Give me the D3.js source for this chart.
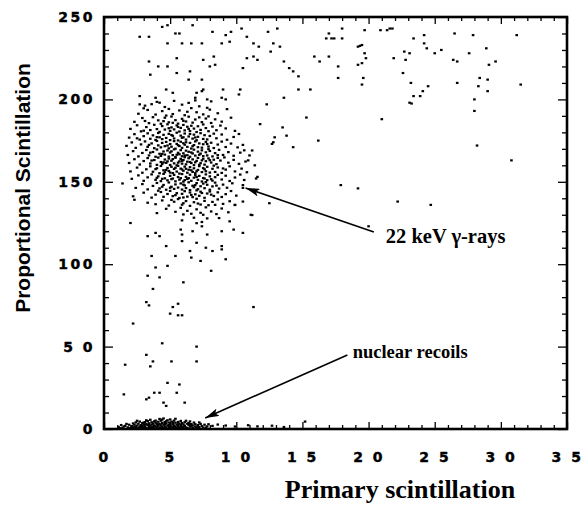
<!DOCTYPE html>
<html><head><meta charset="utf-8">
<script src="https://cdn.jsdelivr.net/npm/d3@7"></script>
<style>
html,body{margin:0;padding:0;background:#fff;}
svg{display:block;}
.tick text{font-family:"DejaVu Sans",sans-serif;font-weight:bold;font-size:14px;fill:#000;letter-spacing:2.5px;stroke:#000;stroke-width:0.4px;}
</style></head>
<body><svg id="chart" width="583" height="507"></svg>
<script>
// ---- data ----
const xTickValues = [0,5,10,15,20,25,30,35];
const xTickLabels = ["0","5","1 0","1 5","2 0","2 5","3 0","3 5"];
const yTickValues = [0,50,100,150,200,250];
const yTickLabels = ["0","5 0","100","150","200","250"];
const xTitle = "Primary scintillation";
const yTitle = "Proportional Scintillation";

// 22 keV gamma-ray population [primary, proportional]
const gammaPoints = [
[3.1,196.2],[4.0,198.5],[4.6,195.4],[5.3,199.1],[5.9,196.8],[6.4,197.9],[7.2,195.8],[8.1,198.8],[3.6,197.1],[6.9,199.4],
[2.6,191.3],[3.3,193.6],[3.9,190.8],[4.4,192.9],[4.9,194.2],[5.2,191.1],[5.7,193.3],[6.1,190.4],[6.6,194.7],[7.0,192.2],[7.5,190.9],[8.0,193.8],[8.6,191.6],[9.3,194.1],[3.0,194.6],[4.7,190.2],[6.3,192.5],[7.8,194.9],
[2.3,186.4],[2.9,188.7],[3.4,185.6],[3.7,189.2],[4.1,187.3],[4.3,185.2],[4.6,188.9],[4.9,186.1],[5.1,189.6],[5.4,187.4],[5.6,185.3],[5.9,188.2],[6.2,186.6],[6.4,189.5],[6.7,185.9],[6.9,187.8],[7.2,189.1],[7.4,186.2],[7.7,188.4],[8.1,185.7],[8.4,187.9],[8.9,186.5],[9.6,188.9],[3.1,186.9],[5.2,185.8],[6.0,187.0],[7.9,189.7],[4.5,186.8],
[2.0,182.1],[2.5,184.3],[2.8,180.6],[3.2,183.2],[3.5,181.4],[3.8,184.6],[4.0,182.0],[4.2,180.3],[4.4,183.8],[4.6,181.7],[4.8,184.9],[5.0,180.9],[5.1,183.0],[5.3,181.8],[5.5,184.2],[5.7,180.5],[5.8,182.7],[6.0,184.5],[6.1,181.2],[6.3,183.4],[6.5,180.8],[6.6,184.0],[6.8,182.3],[7.0,180.2],[7.1,183.7],[7.3,181.5],[7.5,184.8],[7.7,182.6],[7.9,180.7],[8.2,183.5],[8.5,181.3],[8.8,184.1],[9.2,182.4],[9.9,180.9],[3.0,181.0],[4.9,182.5],[6.4,182.1],[5.6,183.3],
[1.9,176.8],[2.3,178.9],[2.7,175.6],[3.0,177.7],[3.3,179.4],[3.5,176.1],[3.7,178.2],[3.9,175.4],[4.1,179.6],[4.2,177.0],[4.4,175.9],[4.5,178.5],[4.7,176.6],[4.9,179.1],[5.0,175.3],[5.2,177.9],[5.3,176.3],[5.5,179.8],[5.6,175.1],[5.8,178.0],[5.9,176.7],[6.1,179.3],[6.2,175.6],[6.4,177.5],[6.5,179.0],[6.7,176.2],[6.8,178.6],[7.0,175.2],[7.1,177.3],[7.3,179.5],[7.5,176.0],[7.6,178.3],[7.8,175.7],[8.0,177.8],[8.3,179.2],[8.5,176.4],[8.9,178.7],[9.3,175.5],[9.8,177.2],[10.2,179.0],[4.0,177.1],[5.1,178.4],[6.0,177.0],[6.9,176.9],[2.5,176.4],
[1.7,171.8],[2.1,173.9],[2.4,170.6],[2.8,172.7],[3.1,174.5],[3.3,171.2],[3.6,173.3],[3.8,170.4],[4.0,174.8],[4.1,172.1],[4.3,170.9],[4.4,173.6],[4.6,171.6],[4.7,174.2],[4.9,170.3],[5.0,172.9],[5.1,171.3],[5.3,174.7],[5.4,170.1],[5.5,173.0],[5.7,171.7],[5.8,174.3],[5.9,170.6],[6.1,172.5],[6.2,174.0],[6.3,171.2],[6.5,173.6],[6.6,170.2],[6.8,172.3],[6.9,174.5],[7.1,171.0],[7.2,173.3],[7.4,170.7],[7.5,172.8],[7.7,174.2],[7.9,171.4],[8.1,173.7],[8.3,170.5],[8.6,172.6],[8.9,174.4],[9.2,171.1],[9.6,173.2],[10.1,170.9],[10.5,172.4],[3.4,172.4],[4.8,172.0],[5.6,172.2],[6.0,173.4],[6.7,171.6],[7.8,172.9],
[1.8,166.3],[2.2,168.6],[2.6,165.4],[2.9,167.5],[3.2,169.3],[3.4,166.0],[3.7,168.1],[3.9,165.2],[4.0,169.6],[4.2,167.0],[4.3,165.7],[4.5,168.4],[4.6,166.5],[4.8,169.0],[4.9,165.3],[5.0,167.8],[5.2,166.2],[5.3,169.7],[5.4,165.0],[5.6,167.6],[5.7,166.7],[5.8,169.2],[5.9,165.5],[6.0,167.3],[6.2,168.9],[6.3,166.1],[6.4,168.2],[6.5,165.2],[6.7,167.2],[6.8,169.5],[6.9,165.9],[7.1,168.3],[7.2,166.4],[7.4,169.1],[7.5,165.6],[7.7,167.9],[7.8,166.0],[8.0,168.7],[8.2,165.4],[8.4,167.4],[8.7,169.4],[9.0,166.3],[9.4,168.0],[9.8,165.8],[10.3,167.7],[10.6,169.1],[3.5,167.7],[4.4,166.9],[5.1,168.5],[5.5,166.4],[6.1,166.0],[6.6,167.8],[7.3,167.1],[7.9,169.8],[8.6,166.2],
[1.9,161.4],[2.3,163.7],[2.7,160.5],[3.0,162.6],[3.3,164.4],[3.5,161.1],[3.8,163.2],[4.0,160.3],[4.1,164.7],[4.3,162.0],[4.4,160.8],[4.6,163.5],[4.7,161.5],[4.9,164.1],[5.0,160.2],[5.1,162.8],[5.3,161.2],[5.4,164.6],[5.5,160.0],[5.7,162.4],[5.8,163.9],[5.9,161.0],[6.0,163.2],[6.2,160.6],[6.3,162.2],[6.4,164.3],[6.6,161.4],[6.7,163.6],[6.8,160.1],[7.0,162.7],[7.1,164.5],[7.3,161.3],[7.4,163.0],[7.6,160.4],[7.7,162.5],[7.9,164.2],[8.1,161.7],[8.3,163.4],[8.5,160.7],[8.8,162.9],[9.1,164.8],[9.4,161.6],[9.8,163.3],[10.2,160.9],[10.7,162.3],[3.6,162.9],[4.5,161.8],[5.2,163.8],[5.6,161.6],[6.1,164.9],[6.5,162.0],[6.9,161.8],[7.5,164.0],[8.0,163.1],[4.8,162.4],[5.9,162.6],[7.2,160.3],[8.6,164.5],
[2.0,156.3],[2.5,158.6],[2.9,155.5],[3.2,157.6],[3.5,159.4],[3.7,156.1],[4.0,158.2],[4.2,155.2],[4.3,159.6],[4.5,157.0],[4.6,155.8],[4.8,158.4],[4.9,156.6],[5.1,159.1],[5.2,155.3],[5.3,157.8],[5.5,156.2],[5.6,159.7],[5.7,155.0],[5.9,157.5],[6.0,156.7],[6.1,159.2],[6.3,155.5],[6.4,157.3],[6.5,158.9],[6.7,156.0],[6.8,158.2],[6.9,155.2],[7.1,157.2],[7.2,159.5],[7.4,155.9],[7.5,158.3],[7.7,156.4],[7.8,159.1],[8.0,155.6],[8.2,157.9],[8.4,156.0],[8.6,158.7],[8.9,155.4],[9.2,157.4],[9.5,159.4],[9.9,156.3],[10.4,158.0],[10.8,155.8],[3.9,157.7],[4.7,157.2],[5.4,158.5],[5.8,158.0],[6.2,157.9],[6.6,157.0],[7.0,156.4],[7.6,157.6],[8.3,159.8],[9.0,158.1],[5.0,155.6],
[2.1,151.8],[2.6,153.9],[3.0,150.6],[3.3,152.7],[3.6,154.5],[3.9,151.2],[4.1,153.3],[4.3,150.4],[4.5,154.8],[4.6,152.1],[4.8,150.9],[5.0,153.6],[5.1,151.6],[5.3,154.2],[5.4,150.3],[5.6,152.9],[5.7,151.3],[5.9,154.7],[6.0,150.1],[6.2,153.0],[6.3,151.7],[6.5,154.3],[6.6,150.6],[6.8,152.5],[6.9,154.0],[7.1,151.2],[7.2,153.6],[7.4,150.2],[7.5,152.3],[7.7,154.5],[7.8,151.0],[8.0,153.3],[8.2,150.7],[8.4,152.8],[8.6,154.2],[8.9,151.4],[9.2,153.7],[9.5,150.5],[9.9,152.6],[10.3,154.4],[10.6,151.1],[4.0,152.4],[5.2,152.0],[5.8,152.2],[6.4,152.2],[7.0,152.9],[7.6,152.0],[8.1,151.6],[4.4,151.8],[6.1,151.0],
[2.4,146.3],[2.9,148.6],[3.3,145.4],[3.7,147.5],[4.0,149.3],[4.2,146.0],[4.5,148.1],[4.7,145.2],[4.9,149.6],[5.1,147.0],[5.3,145.7],[5.4,148.4],[5.6,146.5],[5.8,149.0],[5.9,145.3],[6.1,147.8],[6.2,146.2],[6.4,149.7],[6.5,145.0],[6.7,147.6],[6.8,146.7],[7.0,149.2],[7.1,145.5],[7.3,147.3],[7.5,148.9],[7.6,146.1],[7.8,148.2],[8.0,145.2],[8.2,147.2],[8.4,149.5],[8.7,145.9],[9.0,148.3],[9.3,146.4],[9.7,149.1],[10.5,148.0],[10.5,146.3],[4.4,147.0],[5.0,146.4],[6.0,148.3],[6.9,148.0],[7.7,149.8],[8.5,147.7],
[2.2,141.2],[3.0,143.4],[3.6,140.4],[3.9,142.2],[4.3,143.8],[4.5,140.9],[4.8,142.6],[5.0,144.5],[5.2,141.3],[5.5,143.1],[5.7,140.2],[5.9,142.7],[6.1,144.3],[6.3,141.0],[6.5,143.5],[6.7,140.7],[6.9,142.4],[7.0,144.8],[7.2,141.5],[7.4,143.2],[7.6,140.3],[7.8,142.9],[8.0,144.1],[8.3,141.4],[8.6,143.6],[8.9,140.8],[9.2,142.5],[9.6,144.4],[10.0,141.6],[5.4,141.9],[6.0,140.5],[6.6,142.0],[7.3,144.0],[8.1,142.2],[4.1,144.6],
[2.3,139.1],[3.3,137.3],[3.9,136.4],[4.4,138.7],[4.9,135.6],[5.3,137.9],[5.6,139.5],[5.9,136.1],[6.2,138.3],[6.5,135.4],[6.8,137.6],[7.0,139.7],[7.3,136.2],[7.6,138.4],[7.9,135.8],[8.2,137.8],[8.6,139.3],[9.0,136.6],[9.5,138.2],[9.9,135.9],[10.5,138.0],[6.0,137.0],[7.1,136.8],[8.4,136.0],[5.1,139.0],
[4.0,131.0],[4.7,133.6],[5.4,131.8],[5.8,134.2],[6.3,132.4],[6.6,130.6],[7.0,133.3],[7.3,131.2],[7.7,134.5],[8.1,132.0],[8.5,130.4],[8.9,133.8],[9.4,131.5],[6.0,130.2],[7.5,130.0],
[6.8,128.2],[7.4,125.6],[7.8,127.8],[8.7,128.0],[9.5,126.0],[7.0,124.9],[5.9,126.6],[11.2,129.8]
];

// sparse events away from the two populations
const scatterPoints = [
[1.4,149],[2.0,125],[3.3,117],[3.9,119],[4.2,117],[4.7,111],[3.6,105],[5.4,105],[3.9,98],[4.8,99],[3.3,93],[3.7,85],[6.0,89],
[5.8,121],[5.9,118],[5.9,114],[6.7,120],[6.5,108],[6.6,104],[7.4,123],[8.9,120],[9.8,121],[10.5,119],[7.8,118],[7.0,113],
[7.7,110],[8.2,108],[8.9,111],[8.9,109],[9.2,103],[7.3,102],[8.1,96],[9.9,136],[12.5,137],[11.1,130],[4.2,92],
[2.2,64],[3.2,77],[3.4,75],[5.0,70],[5.2,74],[5.6,76],[5.6,69],[5.9,69],[4.4,52],[7.0,50],[1.6,39],[3.2,45],[3.7,41],[3.5,38],
[5.1,41],[7.0,41],[1.5,21],[3.2,18],[3.4,19],[3.8,22],[4.2,22],[4.8,28],[5.7,27],[5.5,22],[4.5,16],[4.7,14],[6.1,16],[11.3,74],
[13.6,201],[12.3,197],[11.8,185],[13.5,183],[13.8,178],[14.3,171],[12.9,177],[12.8,174],[11.5,152],[11.4,160],[11.6,153],
[11.0,166],[10.9,163],[11.2,169],[12.7,173],[15.3,189],[16.2,175],[17.9,148],[19.2,146],[20.0,123],[22.2,138],[24.7,136],
[2.7,238],[3.4,238],[4.4,244],[4.8,245],[5.4,240],[5.7,240],[5.9,234],[6.7,245],[4.8,234],[6.6,234],[3.4,223],[5.5,225],
[4.1,220],[4.8,220],[3.5,215],[5.5,216],[6.5,217],[6.4,212],[4.7,206],[5.2,204],[2.7,202],[2.7,197],[3.9,201],[4.2,198],
[7.0,204],[7.4,205],[6.9,201],[7.8,200],[8.9,201],[9.2,200],[9.0,206],[10.3,206],[10.2,203],
[8.2,241],[9.2,239],[9.6,241],[10.4,243],[8.9,234],[9.5,235],[12.4,241],[13.1,243],[10.8,238],[11.3,234],[11.7,232],
[12.8,234],[13.3,232],[12.6,229],[8.3,226],[7.4,234],[10.8,225],[11.3,226],[11.6,224],[10.5,219],[13.6,223],[14.0,219],
[14.3,217],[14.7,214],[7.4,212],[7.5,206],[14.7,206],[15.6,206],[15.9,226],[16.3,223],[17.0,226],[17.0,240],[16.8,237],
[17.2,237],[17.4,237],[18.0,243],[18.0,237],[17.7,220],[17.7,213],[19.2,232],[19.35,232.5],[19.5,233],[19.7,242],[19.7,228],
[19.8,225],[19.5,222],[19.2,221],[19.6,213],[19.5,209],[20.9,242],[21.4,242],[21.6,243],[21.8,243],[21.9,225],
[7.5,224],[8.0,220],[8.4,221],
[23.4,237],[24.2,239],[24.2,234],[24.4,231],[22.7,229],[23.1,228],[22.8,224],[25.0,228],[25.5,230],[26.5,240],[27.9,239],
[27.6,228],[26.4,224],[26.7,223],[28.9,231],[29.6,223],[29.1,221],[31.2,239],[22.6,216],[23.2,210],[26.7,210],[28.4,213],
[29.0,212],[24.5,208],[24.1,205],[23.9,202],[23.4,202],[23.1,198],[23.25,197.5],[29.0,205],[28.3,208],[28.0,200],[28.0,193],
[31.5,209],[28.2,172],[21.0,188],[30.8,163]
];

// nuclear-recoil band near zero
const recoilPoints = [
[1.1,1.2],[1.3,2.4],[1.4,0.8],[1.6,1.9],[1.7,3.1],[1.8,1.0],[1.9,2.6],[2.0,0.6],[1.5,1.5],[1.2,0.5],
[2.1,1.8],[2.2,3.4],[2.2,0.9],[2.3,2.7],[2.4,1.3],[2.4,4.0],[2.5,2.1],[2.6,0.7],[2.6,3.2],[2.7,1.6],[2.7,4.5],[2.8,2.4],[2.8,0.9],[2.9,3.6],[2.9,1.2],[3.0,2.9],[2.1,0.5],[2.5,5.0],[2.3,1.5],[2.9,2.0],
[3.0,0.8],[3.1,4.2],[3.1,1.7],[3.2,3.0],[3.2,0.6],[3.3,2.3],[3.3,4.8],[3.4,1.2],[3.4,3.5],[3.5,2.0],[3.5,0.9],[3.6,4.1],[3.6,2.7],[3.7,1.4],[3.7,3.3],[3.8,0.7],[3.8,4.6],[3.8,2.2],[3.9,1.6],[3.9,3.8],[4.0,2.9],[4.0,0.9],[3.2,5.3],[3.5,5.6],[3.0,3.9],[3.6,1.0],[3.4,2.7],[3.9,5.1],
[4.1,1.9],[4.1,4.4],[4.2,0.7],[4.2,3.1],[4.3,2.3],[4.3,5.0],[4.4,1.3],[4.4,3.7],[4.5,0.6],[4.5,2.6],[4.6,4.2],[4.6,1.6],[4.7,3.4],[4.7,0.9],[4.8,2.1],[4.8,5.3],[4.9,1.2],[4.9,3.9],[5.0,2.8],[5.0,0.7],[4.2,6.1],[4.5,6.4],[4.4,5.7],[4.7,4.7],[4.1,2.8],[4.6,3.0],[4.9,2.4],[4.3,1.0],
[5.1,1.6],[5.1,4.5],[5.2,3.0],[5.2,0.8],[5.3,2.2],[5.3,5.1],[5.4,1.2],[5.4,3.8],[5.5,2.6],[5.5,0.6],[5.6,4.3],[5.6,1.8],[5.7,3.3],[5.7,0.9],[5.8,2.4],[5.8,4.9],[5.9,1.4],[5.9,3.6],[6.0,2.8],[6.0,0.8],[5.0,5.8],[5.4,6.2],[5.2,4.0],[5.6,2.9],[5.8,1.1],[5.3,1.5],
[6.1,2.0],[6.1,4.1],[6.2,1.0],[6.3,3.2],[6.3,0.6],[6.4,2.5],[6.5,4.6],[6.5,1.4],[6.6,3.0],[6.7,0.8],[6.7,2.2],[6.8,3.9],[6.9,1.5],[6.9,2.9],[7.0,0.9],[6.2,5.0],[6.6,1.8],[6.4,3.6],
[7.1,2.4],[7.2,1.2],[7.3,3.1],[7.4,1.8],[7.5,0.8],[7.6,2.6],[7.8,1.6],[7.2,4.0],[7.9,2.9],[7.7,0.9],
[8.2,1.9],[8.6,2.7],[9.2,2.1],[9.9,1.5],[10.9,2.3],[11.6,1.6],[12.7,2.0],[15.2,4.5],[13.6,1.2]
];

// annotations: [label, textX, textY, arrowFromX, arrowFromY, arrowToX, arrowToY, fontSize] in data units
const annotations = [
  ["22 keV \u03b3-rays", 21.3, 112.9, 20.4, 119.5, 10.7, 146.2, 20.5],
  ["nuclear recoils", 18.8, 43.1, 18.4, 44.9, 7.65, 6.7, 18.5]
];

// ---- drawing ----
const svg = d3.select("#chart");
const x = d3.scaleLinear().domain([0,35]).range([104,567]);
const y = d3.scaleLinear().domain([0,250]).range([429,17]);

const defs = svg.append("defs");
defs.append("marker").attr("id","ah").attr("viewBox","0 0 14 8")
  .attr("refX",14).attr("refY",4).attr("markerWidth",14).attr("markerHeight",8)
  .attr("markerUnits","userSpaceOnUse").attr("orient","auto")
  .append("path").attr("d","M0,0 L14,4 L0,8 L3,4 Z").attr("fill","#000");

// points
const allPts = gammaPoints.concat(scatterPoints, recoilPoints);
svg.append("g").selectAll("rect").data(allPts).join("rect")
  .attr("x", d => x(d[0]) - 1.3).attr("y", d => y(d[1]) - 1.1)
  .attr("width", 2.6).attr("height", 2.2).attr("fill", "#000");

// minor ticks on all sides
const xMinor = d3.range(0,36,1).filter(v => v % 5 !== 0);
const yMinor = d3.range(0,251,10).filter(v => v % 50 !== 0);
function styleAxis(g){ g.select(".domain").remove(); g.selectAll("line").attr("stroke","#000").attr("stroke-width",1.3); }
svg.append("g").attr("transform","translate(0,429)").call(d3.axisBottom(x).tickValues(xMinor).tickSize(-4).tickFormat("")).call(styleAxis);
svg.append("g").attr("transform","translate(0,17)").call(d3.axisTop(x).tickValues(xMinor).tickSize(-4).tickFormat("")).call(styleAxis);
svg.append("g").attr("transform","translate(104,0)").call(d3.axisLeft(y).tickValues(yMinor).tickSize(-5).tickFormat("")).call(styleAxis);
svg.append("g").attr("transform","translate(567,0)").call(d3.axisRight(y).tickValues(yMinor).tickSize(-5).tickFormat("")).call(styleAxis);
// major ticks
svg.append("g").attr("transform","translate(0,17)").call(d3.axisTop(x).tickValues(xTickValues).tickSize(-7).tickFormat("")).call(styleAxis);
svg.append("g").attr("transform","translate(567,0)").call(d3.axisRight(y).tickValues(yTickValues).tickSize(-9).tickFormat("")).call(styleAxis);
svg.append("g").attr("transform","translate(0,429)")
  .call(d3.axisBottom(x).tickValues(xTickValues).tickSize(-7).tickPadding(23).tickFormat((d,i) => xTickLabels[i]))
  .call(styleAxis);
svg.append("g").attr("transform","translate(104,0)")
  .call(d3.axisLeft(y).tickValues(yTickValues).tickSize(-9).tickPadding(9).tickFormat((d,i) => yTickLabels[i]))
  .call(styleAxis);

// frame
svg.append("rect").attr("x",104).attr("y",17).attr("width",463).attr("height",412)
  .attr("fill","none").attr("stroke","#000").attr("stroke-width",2.6);

// axis titles
svg.append("text").attr("x",400).attr("y",498).attr("text-anchor","middle")
  .attr("font-family","'Liberation Serif','Times New Roman',serif").attr("font-weight","bold")
  .attr("font-size",26).text(xTitle);
svg.append("text").attr("transform","translate(30,188) rotate(-90)").attr("text-anchor","middle")
  .attr("font-family","'Liberation Sans',Arial,sans-serif").attr("font-weight","bold")
  .attr("font-size",21).text(yTitle);

// annotations
const ann = svg.append("g");
annotations.forEach(a => {
  ann.append("line").attr("x1",x(a[3])).attr("y1",y(a[4])).attr("x2",x(a[5])).attr("y2",y(a[6]))
    .attr("stroke","#000").attr("stroke-width",1.6).attr("marker-end","url(#ah)");
  ann.append("text").attr("x",x(a[1])).attr("y",y(a[2]))
    .attr("font-family","'Liberation Serif','Times New Roman',serif").attr("font-weight","bold")
    .attr("font-size",a[7]).text(a[0]);
});
</script></body></html>
